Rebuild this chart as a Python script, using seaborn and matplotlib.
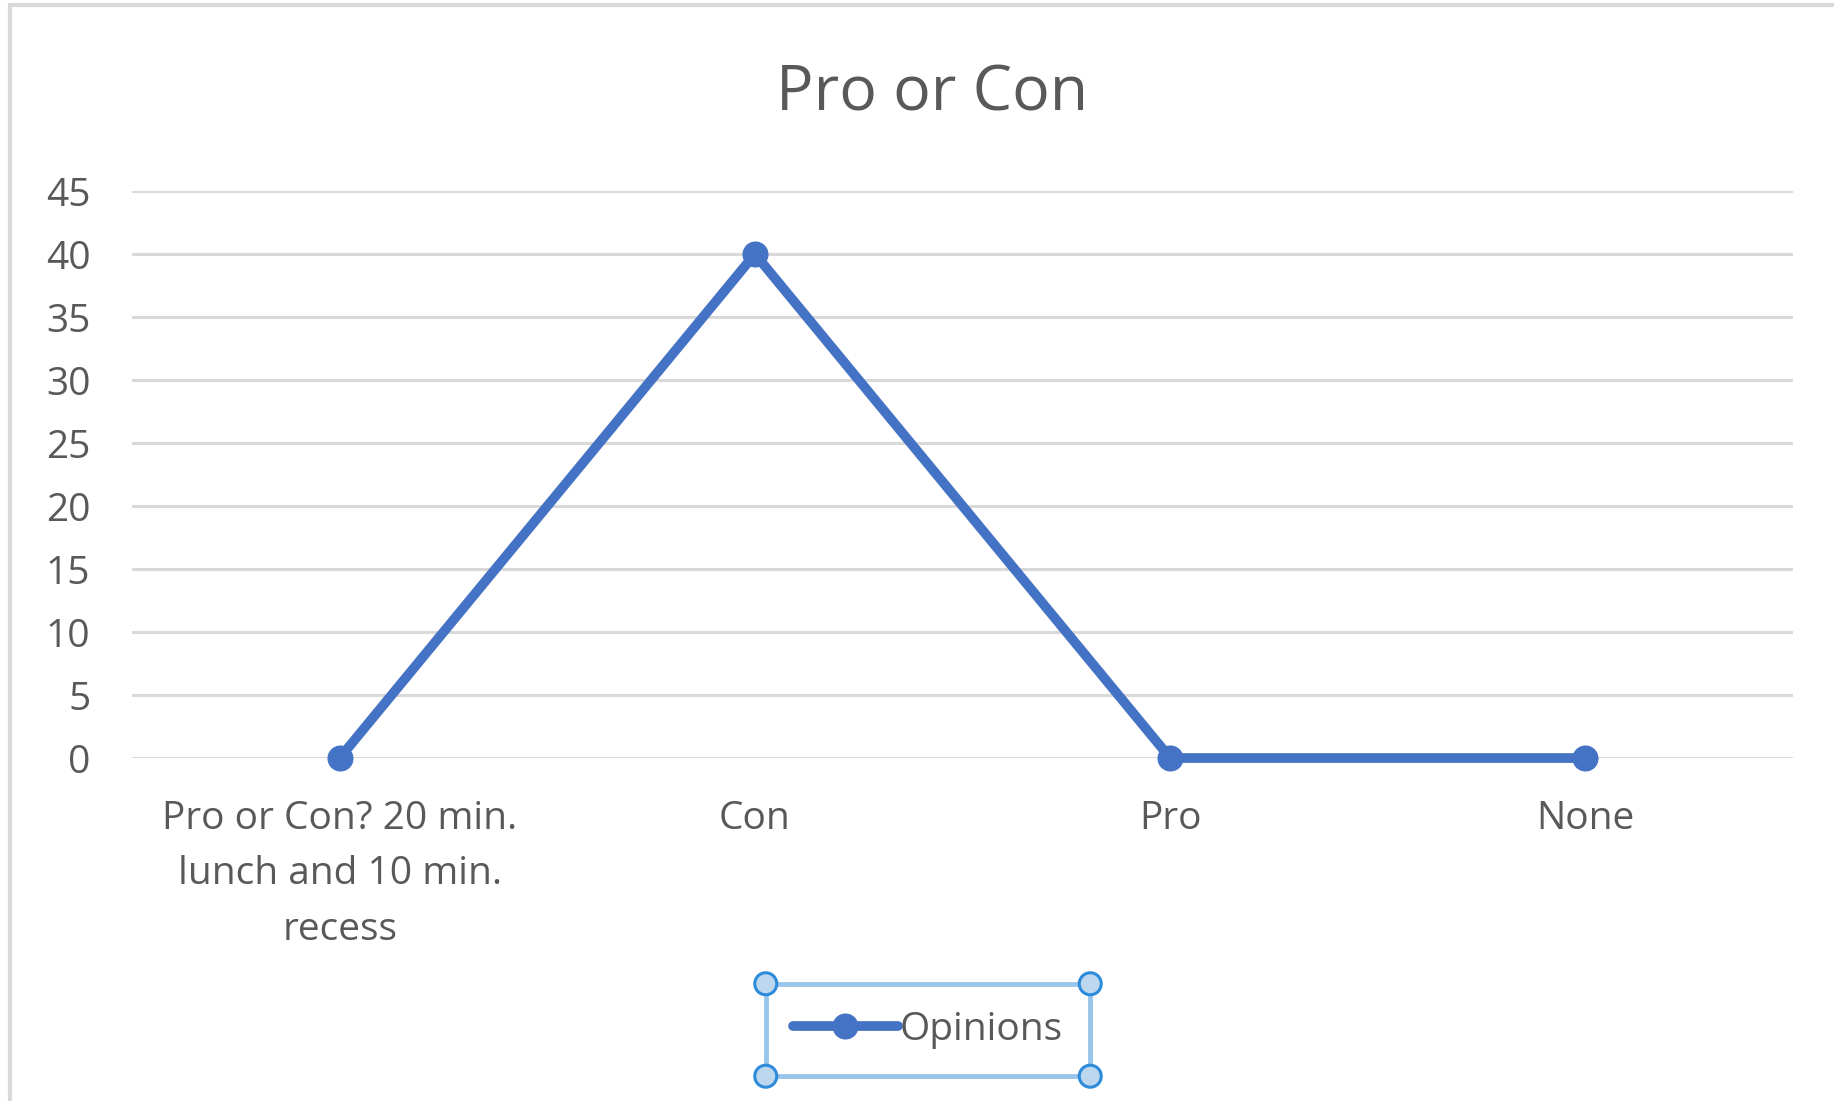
import matplotlib
matplotlib.use('Agg')
import matplotlib.pyplot as plt
import seaborn as sns
import pandas as pd
from matplotlib.patches import Rectangle, Circle

# chart data
categories = ['Pro or Con? 20 min.\nlunch and 10 min.\nrecess', 'Con', 'Pro', 'None']
opinions = [0, 40, 0, 0]
y_ticks = [0, 5, 10, 15, 20, 25, 30, 35, 40, 45]

df = pd.DataFrame({'category': categories, 'Opinions': opinions})

sns.set_style('white')
plt.rcParams['font.family'] = ['Open Sans', 'DejaVu Sans']

text_grey = '#595959'
line_blue = '#4472C4'

fig = plt.figure(figsize=(18.34, 11.01), dpi=100)
ax = fig.add_axes([0.072, 0.3115, 0.9057, 0.515])

sns.lineplot(data=df, x='category', y='Opinions', ax=ax, sort=False,
             color=line_blue, linewidth=7, marker='o', markersize=18,
             markeredgecolor=line_blue, label='Opinions', clip_on=False, zorder=3)

ax.set_xlim(-0.5, len(categories) - 0.5)
ax.set_ylim(0, 45)
ax.set_yticks(y_ticks)
ax.set_yticklabels([str(t) for t in y_ticks])
ax.grid(axis='y', color='#D9D9D9', linewidth=2.2)
ax.grid(axis='x', visible=False)
ax.set_axisbelow(True)
for s in ax.spines.values():
    s.set_visible(False)
ax.set_xlabel('')
ax.set_ylabel('')
ax.tick_params(axis='y', length=0, pad=30, labelsize=28, labelcolor=text_grey)
ax.tick_params(axis='x', length=0, pad=30, labelsize=28, labelcolor=text_grey)
for lab in ax.get_xticklabels():
    lab.set_linespacing(1.6)

fig.text(0.508, 0.914, 'Pro or Con', ha='center', va='center',
         fontsize=45, color=text_grey)

# legend with selection-style frame
leg = ax.legend(loc='center', bbox_to_anchor=(0.506, 0.0645), bbox_transform=fig.transFigure,
                fontsize=28, frameon=True, fancybox=False, handlelength=2.7,
                handletextpad=0.05, borderpad=0.7, labelcolor=text_grey,
                markerscale=1.0)
leg.get_frame().set_edgecolor('#7FB8E6')
leg.get_frame().set_linewidth(3.5)
for t in leg.get_texts():
    t.set_color(text_grey)

# outer chart border
fig.patches.append(Rectangle((10 / 1834, -0.1), 1.2, 1 - 5 / 1101 + 0.1,
                             transform=fig.transFigure, fill=False,
                             edgecolor='#D9D9D9', linewidth=3))

fig.canvas.draw()
bb = leg.get_window_extent()
for cx in (bb.x0, bb.x1):
    for cy in (bb.y0, bb.y1):
        fig.patches.append(Circle((cx, cy), 11, transform=None, facecolor='#BDD7EE',
                                  edgecolor='#2E8BDB', linewidth=2.2, zorder=10))

fig.savefig('out.png', dpi=100, facecolor='white')
